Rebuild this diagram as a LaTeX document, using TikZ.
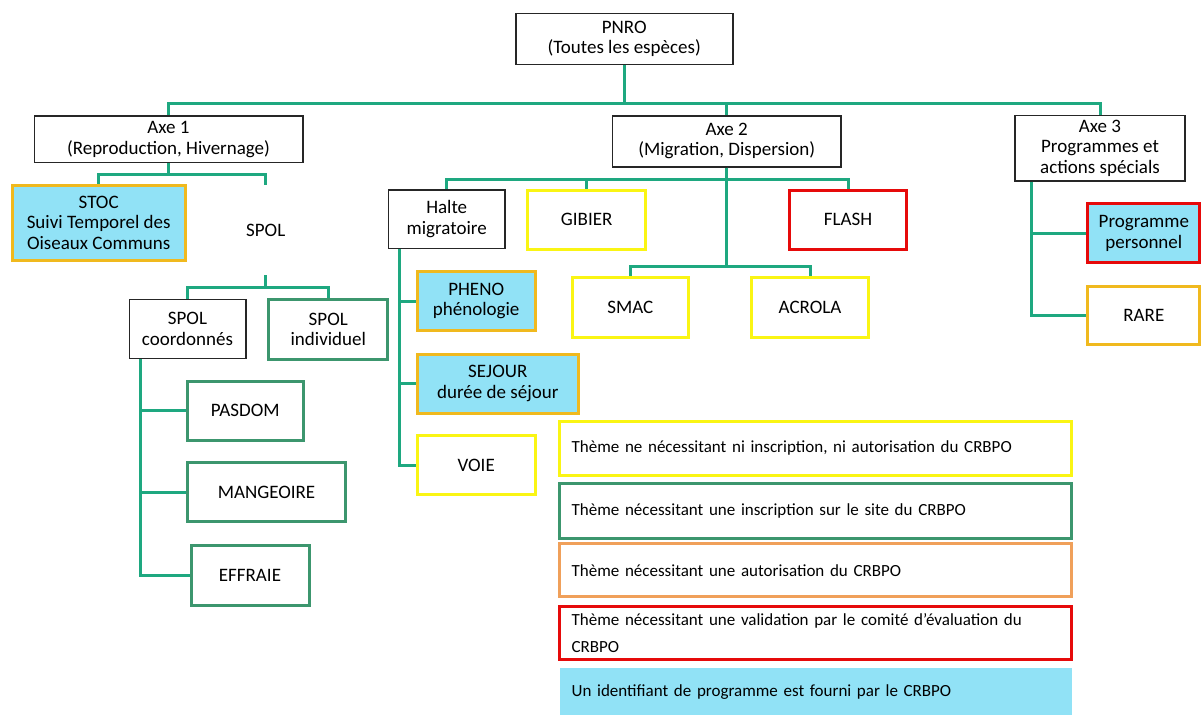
\documentclass[tikz,border=0pt]{standalone}
\usepackage{fontspec}
\setmainfont{Carlito}
\definecolor{linkgreen}{RGB}{30,168,128}
\definecolor{boxgreen}{RGB}{60,150,110}
\definecolor{boxyellow}{RGB}{250,245,20}
\definecolor{boxgold}{RGB}{240,185,30}
\definecolor{boxorange}{RGB}{240,160,90}
\definecolor{boxred}{RGB}{230,10,10}
\definecolor{idblue}{RGB}{145,226,246}

\begin{document}
\begin{tikzpicture}[x=1pt,y=-1pt,
        font={\fontsize{19}{20.5}\selectfont},
        link/.style={draw=linkgreen,line width=3pt},
        wh/.style 2 args={minimum width=#1,minimum height=#2},
        box/.style={rectangle,draw=black!85,line width=1.6pt,align=center,inner sep=0pt},
        yellowbox/.style={box,draw=boxyellow,line width=3pt},
        greenbox/.style={box,draw=boxgreen,line width=3pt},
        goldbox/.style={box,draw=boxgold,line width=3pt},
        redbox/.style={box,draw=boxred,line width=3pt},
        idfill/.style={fill=idblue},
        legend/.style={rectangle,inner xsep=11.7pt,inner ysep=0pt,text width=488.3pt,
            align=left,minimum height=#1,line width=3pt,font={\fontsize{17}{27}\selectfont}},
    ]
    \path[use as bounding box,fill=white] (0,0) rectangle (1201,715);

    % top and the three axes
    \node[box,wh={217}{51}] (pnro) at (624.2,38.8) {PNRO\\(Toutes les espèces)};
    \node[box,wh={268.4}{46.7}] (axe1) at (168.5,139.3) {Axe 1\\(Reproduction, Hivernage)};
    \node[box,wh={228.7}{51}] (axe2) at (726.7,141.2) {Axe 2\\(Migration, Dispersion)};
    \node[box,wh={170}{65.3}] (axe3) at (1100,148.3) {Axe 3\\Programmes et\\actions spécials};

    % axe 1
    \node[goldbox,idfill,wh={172.7}{75}] (stoc) at (98.7,222.5) {STOC\\Suivi Temporel des\\Oiseaux Communs};
    \node[inner sep=0pt,wh={60}{90}] (spol) at (265.7,230) {SPOL};
    \node[box,wh={116.4}{59}] (spolcoord) at (187.5,328.8) {SPOL\\coordonnés};
    \node[greenbox,wh={118.7}{59.7}] (spolind) at (328.3,329.2) {SPOL\\individuel};
    \node[greenbox,wh={116}{59}] (pasdom) at (245.3,410.5) {PASDOM};
    \node[greenbox,wh={157.6}{58.6}] (mangeoire) at (266.5,492) {MANGEOIRE};
    \node[greenbox,wh={118}{60}] (effraie) at (250,575) {EFFRAIE};

    % axe 2
    \node[box,wh={116.7}{58.3}] (halte) at (446.7,219.2) {Halte\\migratoire};
    \node[yellowbox,wh={118}{59}] (gibier) at (586.7,219.5) {GIBIER};
    \node[redbox,wh={117.4}{59}] (flash) at (848,219.5) {FLASH};
    \node[yellowbox,wh={116}{59.6}] (smac) at (630.3,307.5) {SMAC};
    \node[yellowbox,wh={116.6}{59.6}] (acrola) at (810,307.5) {ACROLA};
    \node[goldbox,idfill,wh={117.7}{59}] (pheno) at (476.2,301.2) {PHENO\\phénologie};
    \node[goldbox,idfill,wh={161}{59.3}] (sejour) at (497.8,383.7) {SEJOUR\\durée de séjour};
    \node[yellowbox,wh={117.7}{59.3}] (voie) at (476.2,465.3) {VOIE};

    % axe 3
    \node[redbox,idfill,wh={112.3}{58.7}] (progperso) at (1143.8,233.3) {Programme\\personnel};
    \node[goldbox,wh={112.3}{58.3}] (rare) at (1143.8,315.8) {RARE};

    % legend
    \node[legend=54,draw=boxyellow] (leg1) at (815.8,448) {Thème ne nécessitant ni inscription, ni autorisation du CRBPO};
    \node[legend=55,draw=boxgreen] (leg2) at (815.8,510.8) {Thème nécessitant une inscription sur le site du CRBPO};
    \node[legend=52.7,draw=boxorange] (leg3) at (815.8,570.3) {Thème nécessitant une autorisation du CRBPO};
    \node[legend=53.3,draw=boxred] (leg4) at (815.8,633.3) {Thème nécessitant une validation par le comité d’évaluation du\\CRBPO};
    \node[legend=46.7,fill=idblue] (leg5) at (815.8,691.7) {Un identifiant de programme est fourni par le CRBPO};

    % connectors
    \foreach \n in {axe1,axe2,axe3}
        \draw[link] (pnro.south) -- ++(0,38.7) -| (\n.north);
    \foreach \n in {stoc,spol}
        \draw[link] (axe1.south) -- ++(0,10.6) -| (\n.north);
    \foreach \n in {spolcoord,spolind}
        \draw[link] (spol.south) -- ++(0,12) -| (\n.north);
    \foreach \n in {pasdom,mangeoire,effraie}
        \draw[link] ([xshift=12.4pt]spolcoord.south west) |- (\n.west);
    \foreach \n in {halte,gibier,flash}
        \draw[link] (axe2.south) -- ++(0,12.3) -| (\n.north);
    \foreach \n in {smac,acrola}
        \draw[link] (axe2.south) -- ++(0,99.3) -| (\n.north);
    \foreach \n in {pheno,sejour,voie}
        \draw[link] ([xshift=12.4pt]halte.south west) |- (\n.west);
    \foreach \n in {progperso,rare}
        \draw[link] ([xshift=17.3pt]axe3.south west) |- (\n.west);
\end{tikzpicture}
\end{document}
